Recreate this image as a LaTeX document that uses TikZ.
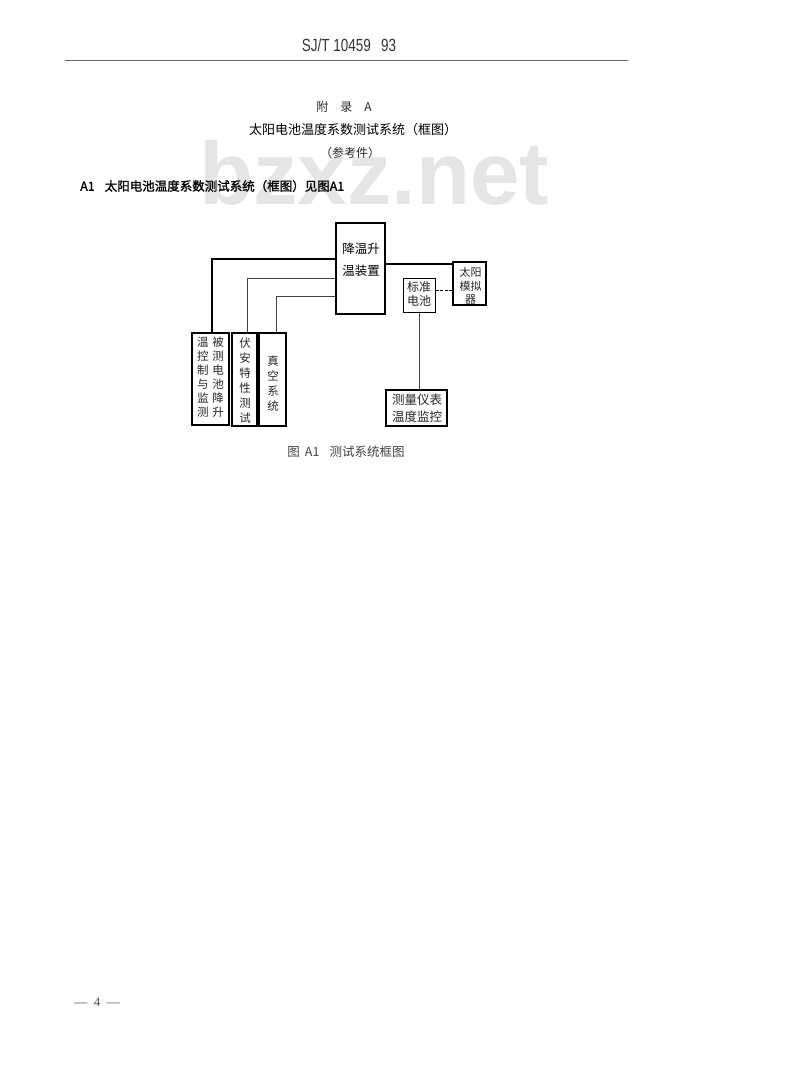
\documentclass[tikz,border=0pt]{standalone}
\usepackage{fontspec}
\setmainfont{Liberation Serif}
\newfontfamily\cjk{Noto Sans CJK SC}
\newfontfamily\cjkm[FakeBold=1.2]{Noto Sans CJK SC}
\newfontfamily\hdfont{Liberation Sans}

\tikzset{
	box/.style={draw, line width=1.3pt, inner sep=0pt},
	lnk/.style={line width=1pt},
	zh/.style={inner sep=0pt, align=center, text=black!85},
}

\begin{document}
\begin{tikzpicture}[x=1pt, y=-1pt]
	\useasboundingbox[fill=white] (0,0) rectangle (800,1090);

	% watermark
	\node (wm) at (199,204)[anchor=base west, inner sep=0pt, text=black!10, font=\hdfont\bfseries\fontsize{88.7}{90}\selectfont]{bzxz.net};

	% page head
	\node (head) at (349,45)[inner sep=0pt, text=black!80, font=\hdfont\fontsize{13.5}{14}\selectfont]{\scalebox{1}[1.3]{SJ/T 10459\hspace{10pt}93}};
	\draw[line width=.8pt, black!60] (65,60) -- (628,60);

	\node (app) at (344,107)[zh, font=\cjk\fontsize{12}{14}\selectfont]{附\hspace{1em}录\hspace{1em}A};
	\node (title) at (353,130)[zh, text=black, font=\cjk\fontsize{13}{14}\selectfont]{太阳电池温度系数测试系统（框图）};
	\node (ref) at (350,153)[zh, font=\cjk\fontsize{12}{14}\selectfont]{（参考件）};
	\node (a1) at (80,186)[zh, anchor=west, text=black, font=\cjkm\fontsize{12.5}{14}\selectfont]{A1\hspace{.8em}太阳电池温度系数测试系统（框图）见图A1};

	% boxes
	\node (cool) at (360.5,268.5)[box, minimum width=49pt, minimum height=91pt]{};
	\node (coolt) at (361,260)[zh, text=black, font=\cjk\fontsize{12.5}{22}\selectfont]{降温升\\温装置};

	\node (sun) at (469.5,283.5)[box, minimum width=33pt, minimum height=43pt]{};
	\node (sunt) at (470.5,286)[zh, font=\cjk\fontsize{11}{13.5}\selectfont]{太阳\\模拟\\器};

	\node (std) at (419,295)[box, line width=1pt, minimum width=32pt, minimum height=34pt]{};
	\node (stdt) at (419,293.5)[zh, font=\cjk\fontsize{12}{14}\selectfont]{标准\\电池};

	\node (meas) at (416.5,408)[box, minimum width=61pt, minimum height=36pt]{};
	\node (meast) at (417,408.5)[zh, font=\cjk\fontsize{12.5}{17}\selectfont]{测量仪表\\温度监控};

	\node (ctl) at (210.5,379)[box, minimum width=37pt, minimum height=92pt]{};
	\node (ctlt) at (210.5,378.5)[zh, font=\cjk\fontsize{11.5}{14}\selectfont]{\begin{tabular}{@{}c@{\hspace{4pt}}c@{}}温&被\\控&测\\制&电\\与&池\\监&降\\测&升\end{tabular}};

	\node (iv) at (244.5,379.5)[box, minimum width=25pt, minimum height=93pt]{};
	\node (ivt) at (245,380.5)[zh, font=\cjk\fontsize{11.5}{15}\selectfont]{伏\\安\\特\\性\\测\\试};

	\node (vac) at (272.5,379.5)[box, minimum width=27pt, minimum height=93pt]{};
	\node (vact) at (273,384)[zh, font=\cjk\fontsize{11.5}{15}\selectfont]{真\\空\\系\\统};

	% links
	\draw[lnk, line width=1.4pt] (cool.west |- 0,259) -| (ctl.north -| 212,0);
	\draw[lnk, black!75] (cool.west |- 0,278) -| (iv.north -| 247,0);
	\draw[lnk, black!75] (cool.west |- 0,296) -| (vac.north -| 276,0);
	\draw[lnk, line width=1.2pt] (cool.east |- 0,264) -- (sun.west |- 0,264);
	\draw[lnk, dash pattern=on 3pt off 1.5pt] (std.east |- 0,290) -- (sun.west |- 0,290);
	\draw[lnk, black!75] (std.south) -- (std.south |- meas.north);

	% caption
	\node (cap) at (346,452)[zh, text=black!75, font=\cjk\fontsize{12.5}{14}\selectfont]{图\hspace{.4em}A1\hspace{.8em}测试系统框图};

	\node (pg) at (97,1002)[inner sep=0pt, text=black!70, font=\fontsize{13}{14}\selectfont]{—\hspace{.5em}4\hspace{.5em}—};
\end{tikzpicture}
\end{document}
